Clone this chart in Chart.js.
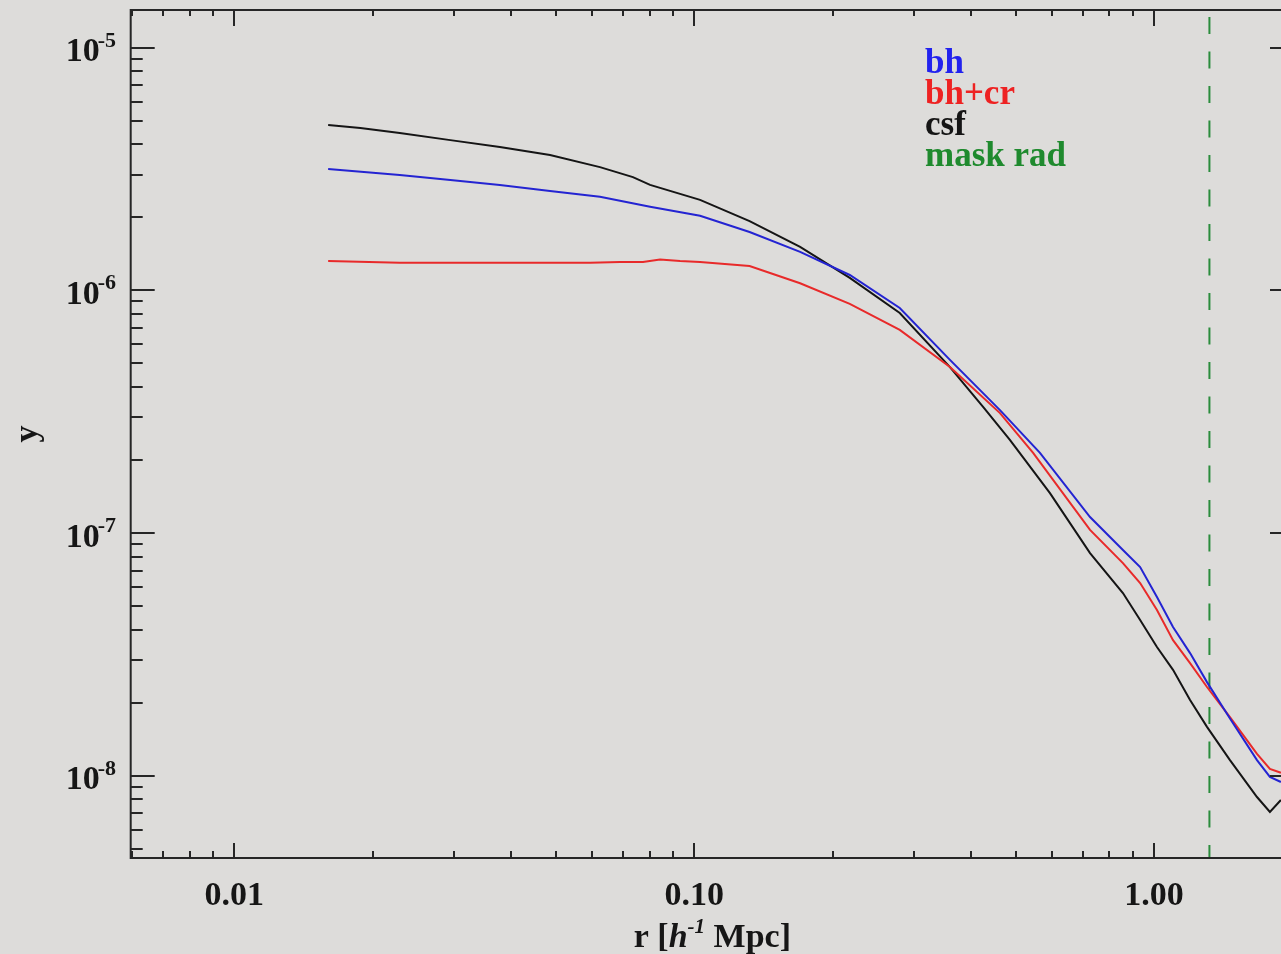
<!DOCTYPE html>
<html>
<head>
<meta charset="utf-8">
<title>y profile</title>
<script src="https://cdn.jsdelivr.net/npm/chart.js@4.4.1/dist/chart.umd.min.js"></script>
<style>
  html, body { margin: 0; padding: 0; overflow: hidden; background: #dddcda; }
  canvas { display: block; }
</style>
</head>
<body>
<canvas id="profile" width="1300" height="954" style="width:1300px;height:954px"></canvas>
<script>
// ================== DATA ==================
// radius in h^-1 Mpc, y profile per run
const bhR   = [0.0160, 0.0229, 0.0295, 0.0378, 0.0486, 0.0624, 0.0802, 0.103, 0.132, 0.170, 0.218, 0.280, 0.360,
               0.4625, 0.565, 0.726, 0.856, 0.933, 1.015, 1.100, 1.198, 1.304, 1.463, 1.675, 1.787, 1.888];
const bhY   = [3.16e-6, 2.99e-6, 2.85e-6, 2.72e-6, 2.57e-6, 2.43e-6, 2.21e-6, 2.03e-6, 1.74e-6, 1.44e-6, 1.157e-6, 8.46e-7, 5.17e-7,
               3.21e-7, 2.14e-7, 1.164e-7, 8.51e-8, 7.24e-8, 5.45e-8, 4.10e-8, 3.20e-8, 2.43e-8, 1.72e-8, 1.16e-8, 9.88e-9, 9.42e-9];

const bhcrR = [0.0160, 0.0229, 0.0378, 0.0594, 0.0690, 0.0774, 0.0843, 0.0932, 0.103, 0.132, 0.170, 0.218, 0.280, 0.360,
               0.4625, 0.546, 0.726, 0.856, 0.933, 1.015, 1.100, 1.198, 1.304, 1.463, 1.675, 1.787, 1.888];
const bhcrY = [1.32e-6, 1.30e-6, 1.30e-6, 1.30e-6, 1.31e-6, 1.31e-6, 1.34e-6, 1.32e-6, 1.31e-6, 1.26e-6, 1.07e-6, 8.80e-7, 6.87e-7, 4.83e-7,
               3.12e-7, 2.14e-7, 1.03e-7, 7.52e-8, 6.22e-8, 4.82e-8, 3.62e-8, 2.91e-8, 2.32e-8, 1.745e-8, 1.23e-8, 1.067e-8, 1.028e-8];

const csfR  = [0.0160, 0.0188, 0.0229, 0.0295, 0.0378, 0.0486, 0.0624, 0.0736, 0.0802, 0.103, 0.132, 0.170, 0.218, 0.280, 0.360,
               0.425, 0.486, 0.594, 0.726, 0.856, 0.933, 1.015, 1.100, 1.198, 1.304, 1.463, 1.675, 1.787, 1.888];
const csfY  = [4.80e-6, 4.67e-6, 4.45e-6, 4.16e-6, 3.90e-6, 3.61e-6, 3.22e-6, 2.93e-6, 2.72e-6, 2.36e-6, 1.93e-6, 1.51e-6, 1.125e-6, 8.07e-7, 4.83e-7,
               3.31e-7, 2.42e-7, 1.46e-7, 8.27e-8, 5.66e-8, 4.38e-8, 3.39e-8, 2.73e-8, 2.05e-8, 1.59e-8, 1.16e-8, 8.17e-9, 7.09e-9, 7.94e-9];

const maskRadius = 1.32;

// axis ranges
const rMin = 0.005953, rMax = 2.016;
const yMin = 4.58e-9,  yMax = 1.43e-5;

// tick labels
const xTickValues = [0.01, 0.1, 1];
const xTickLabels = ['0.01', '0.10', '1.00'];
const yTickValues = [1e-5, 1e-6, 1e-7, 1e-8];
const yTickExps   = ['-5', '-6', '-7', '-8'];

// ================== STYLE ==================
const SERIF = '"Liberation Serif", "DejaVu Serif", serif';
const INK = '#161616';
const BG = '#dddcda';

function points(rs, ys){
  return rs.map((r, i) => ({ x: r, y: ys[i] }));
}

// 1..9 x 10^k values inside a range, decades flagged as major
function logTicks(min, max){
  const out = [];
  for(let k = Math.floor(Math.log10(min)); k <= Math.ceil(Math.log10(max)); k++){
    for(let m = 1; m <= 9; m++){
      const v = m * Math.pow(10, k);
      if(v >= min * 0.9999 && v <= max * 1.0001) out.push({ v, major: m === 1 });
    }
  }
  return out;
}

// ================== FRAME / LABELS PLUGIN ==================
const idlFrame = {
  id: 'idlFrame',
  beforeDraw(chart){
    const ctx = chart.ctx;
    ctx.save();
    ctx.fillStyle = BG;
    ctx.fillRect(0, 0, chart.width, chart.height);
    ctx.restore();
  },
  afterDraw(chart){
    const { ctx, chartArea: a } = chart;
    const xs = chart.scales.x, ys = chart.scales.y;
    ctx.save();

    // box
    ctx.strokeStyle = '#262626';
    ctx.lineWidth = 2;
    ctx.strokeRect(a.left, a.top, a.right - a.left, a.bottom - a.top);

    // inward ticks
    ctx.beginPath();
    logTicks(xs.min, xs.max).forEach(t => {
      const px = Math.round(xs.getPixelForValue(t.v));
      ctx.moveTo(px, a.bottom); ctx.lineTo(px, a.bottom - (t.major ? 15 : 7));
      ctx.moveTo(px, a.top);    ctx.lineTo(px, a.top + (t.major ? 16 : 6));
    });
    logTicks(ys.min, ys.max).forEach(t => {
      const py = Math.round(ys.getPixelForValue(t.v));
      ctx.moveTo(a.left, py);  ctx.lineTo(a.left + (t.major ? 24 : 12), py);
      ctx.moveTo(a.right, py); ctx.lineTo(a.right - (t.major ? 24 : 12), py);
    });
    ctx.stroke();

    ctx.fillStyle = INK;
    ctx.textBaseline = 'alphabetic';

    // x tick labels
    ctx.font = 'bold 34px ' + SERIF;
    ctx.textAlign = 'center';
    xTickValues.forEach((v, i) => {
      ctx.fillText(xTickLabels[i], xs.getPixelForValue(v), a.bottom + 47);
    });

    // y tick labels: 10^n
    yTickValues.forEach((v, i) => {
      const py = ys.getPixelForValue(v);
      ctx.font = 'bold 34px ' + SERIF;
      ctx.textAlign = 'right';
      ctx.fillText('10', a.left - 31, py + 13.5);
      ctx.font = 'bold 22px ' + SERIF;
      ctx.textAlign = 'left';
      ctx.fillText(yTickExps[i], a.left - 33, py - 1);
    });

    // x title: r [h^-1 Mpc]
    const parts = [
      { t: 'r [',   font: 'bold 34px ' + SERIF,        dy: 0 },
      { t: 'h',     font: 'italic bold 34px ' + SERIF, dy: 0 },
      { t: '-1',    font: 'italic bold 21px ' + SERIF, dy: -14 },
      { t: ' Mpc]', font: 'bold 34px ' + SERIF,        dy: 0 }
    ];
    let total = 0;
    parts.forEach(p => { ctx.font = p.font; p.w = ctx.measureText(p.t).width; total += p.w; });
    let cx = (a.left + a.right) / 2 - total / 2;
    ctx.textAlign = 'left';
    parts.forEach(p => {
      ctx.font = p.font;
      ctx.fillText(p.t, cx, a.bottom + 89 + p.dy);
      cx += p.w;
    });

    // y title
    ctx.save();
    ctx.translate(37, (a.top + a.bottom) / 2);
    ctx.rotate(-Math.PI / 2);
    ctx.font = 'bold 34px ' + SERIF;
    ctx.textAlign = 'center';
    ctx.fillText('y', 0, 0);
    ctx.restore();

    // legend: coloured names only
    ctx.font = 'bold 35px ' + SERIF;
    ctx.textAlign = 'left';
    chart.data.datasets.forEach((ds, i) => {
      ctx.fillStyle = ds.textColor;
      ctx.fillText(ds.label, 925, 73 + i * 31);
    });

    ctx.restore();
  }
};

// ================== CHART ==================
const hidden = {
  grid: { display: false },
  border: { display: false },
  ticks: { display: false }
};

new Chart(document.getElementById('profile'), {
  type: 'line',
  data: {
    datasets: [
      { label: 'bh',       data: points(bhR, bhY),     borderColor: '#2424d2', textColor: '#2222ee' },
      { label: 'bh+cr',    data: points(bhcrR, bhcrY), borderColor: '#e82a2a', textColor: '#ee2222' },
      { label: 'csf',      data: points(csfR, csfY),   borderColor: '#151515', textColor: '#151515' },
      { label: 'mask rad', data: points([maskRadius, maskRadius], [yMax, yMin]),
        borderColor: '#2a8c3c', textColor: '#1f8a2e', borderDash: [17, 17.5], borderDashOffset: 27.5 }
    ]
  },
  options: {
    responsive: false,
    devicePixelRatio: 1,
    animation: false,
    layout: { padding: 0 },
    elements: {
      line: { borderWidth: 2, tension: 0, fill: false },
      point: { radius: 0, hoverRadius: 0 }
    },
    plugins: { legend: { display: false }, tooltip: { enabled: false } },
    scales: {
      x: { type: 'logarithmic', position: 'bottom', min: rMin, max: rMax, bounds: 'data', ...hidden,
           afterFit(s){ s.height = 96; } },
      xTop: { type: 'linear', position: 'top', min: 0, max: 1, ...hidden,
           afterFit(s){ s.height = 10; } },
      y: { type: 'logarithmic', position: 'left', min: yMin, max: yMax, bounds: 'data', ...hidden,
           afterFit(s){ s.width = 130.7; } },
      yRight: { type: 'linear', position: 'right', min: 0, max: 1, ...hidden,
           afterFit(s){ s.width = 6; } }
    }
  },
  plugins: [idlFrame]
});
</script>
</body>
</html>
